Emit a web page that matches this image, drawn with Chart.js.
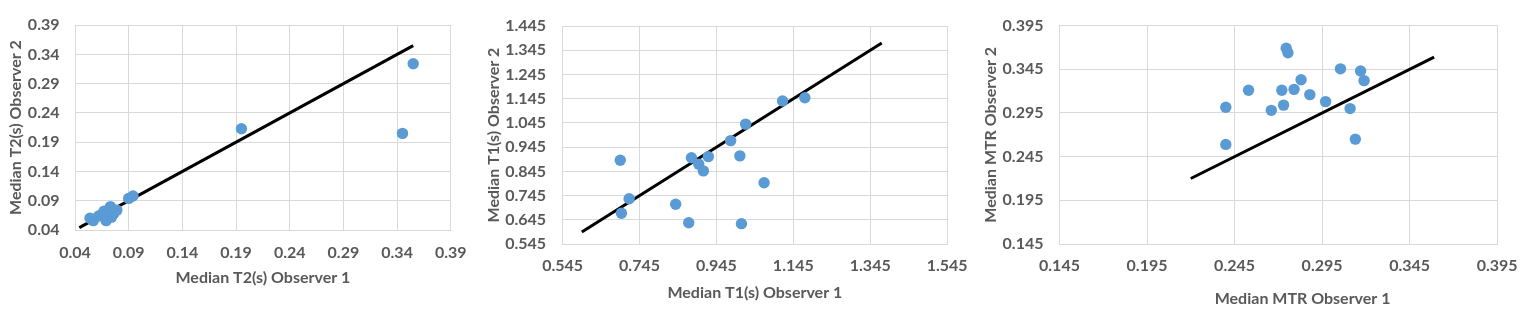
<!DOCTYPE html>
<html>
<head>
<meta charset="utf-8">
<script src="https://cdn.jsdelivr.net/npm/chart.js@4.4.1/dist/chart.umd.min.js"></script>
<style>
  html, body { margin: 0; padding: 0; background: #fff; }
  body { width: 1530px; height: 324px; position: relative; overflow: hidden; }
  canvas { position: absolute; top: 0; }
</style>
</head>
<body>
<canvas id="t2Chart" width="480" height="324" style="left:0px"></canvas>
<canvas id="t1Chart" width="500" height="324" style="left:480px"></canvas>
<canvas id="mtrChart" width="550" height="324" style="left:980px"></canvas>
<script>
// T2 (s)
const t2Observer1 = [0.054, 0.057, 0.062, 0.065, 0.067, 0.069, 0.071, 0.073, 0.074, 0.076, 0.079, 0.090, 0.094, 0.195, 0.345, 0.355];
const t2Observer2 = [0.060, 0.056, 0.064, 0.066, 0.072, 0.056, 0.070, 0.080, 0.062, 0.068, 0.074, 0.094, 0.098, 0.213, 0.205, 0.324];
const t2LineEnds = [0.044, 0.355];
const t2Ticks = [0.04, 0.09, 0.14, 0.19, 0.24, 0.29, 0.34, 0.39];

// T1 (s)
const t1Observer1 = [0.695, 0.718, 0.698, 0.839, 0.873, 0.880, 0.899, 0.911, 0.924, 0.982, 1.006, 1.010, 1.021, 1.069, 1.117, 1.175];
const t1Observer2 = [0.891, 0.732, 0.672, 0.709, 0.633, 0.901, 0.875, 0.847, 0.906, 0.972, 0.909, 0.629, 1.040, 0.798, 1.136, 1.149];
const t1LineEnds = [0.595, 1.375];
const t1XTicks = [0.545, 0.745, 0.945, 1.145, 1.345, 1.545];
const t1YTicks = [0.545, 0.645, 0.745, 0.845, 0.945, 1.045, 1.145, 1.245, 1.345, 1.445];

// MTR
const mtrObserver1 = [0.240, 0.240, 0.253, 0.266, 0.272, 0.273, 0.2745, 0.2755, 0.279, 0.283, 0.288, 0.297, 0.3055, 0.311, 0.314, 0.317, 0.319];
const mtrObserver2 = [0.3015, 0.259, 0.321, 0.298, 0.321, 0.304, 0.369, 0.364, 0.322, 0.333, 0.316, 0.308, 0.3455, 0.300, 0.265, 0.343, 0.332];
const mtrLineEnds = [0.220, 0.359];
const mtrTicks = [0.145, 0.195, 0.245, 0.295, 0.345, 0.395];

const TEXT = "#595959";
const GRID = "#D9D9D9";
const FONT = { family: "Lato, 'Open Sans', sans-serif", size: 16, weight: "bold" };

// draws an x title at a fixed spot (used where the title is not centred on the plot)
const freeTitle = {
  id: "freeTitle",
  afterDraw(chart, args, opts) {
    if (!opts.text) return;
    const ctx = chart.ctx;
    ctx.save();
    ctx.font = "bold 16px Lato, 'Open Sans', sans-serif";
    ctx.fillStyle = TEXT;
    ctx.textAlign = "center";
    ctx.textBaseline = "middle";
    ctx.fillText(opts.text, opts.x, opts.y);
    ctx.restore();
  },
};

function axis(cfg) {
  const horizontal = cfg.dir === "x";
  return {
    type: "linear",
    position: horizontal ? "bottom" : "left",
    min: cfg.ticks[0],
    max: cfg.ticks[cfg.ticks.length - 1],
    afterBuildTicks: (s) => { s.ticks = cfg.ticks.map((v) => ({ value: v })); },
    afterFit: (s) => {
      if (horizontal) s.height = cfg.size; else s.width = cfg.size;
    },
    grid: { color: GRID, lineWidth: 1, drawTicks: false },
    border: { color: GRID, width: 1 },
    ticks: {
      color: TEXT,
      font: FONT,
      padding: cfg.pad,
      autoSkip: false,
      maxRotation: 0,
      callback: (v) => Number(v).toFixed(cfg.dec),
    },
    title: {
      display: !!cfg.title,
      text: cfg.title || "",
      color: TEXT,
      font: FONT,
      padding: horizontal ? { top: 0, bottom: 0 } : { top: cfg.titlePad, bottom: 0 },
    },
  };
}

function makeScatter(id, xs, ys, lineEnds, opts) {
  const points = xs.map((x, i) => ({ x: x, y: ys[i] }));
  const line = lineEnds.map((v) => ({ x: v, y: v }));
  return new Chart(document.getElementById(id), {
    type: "scatter",
    data: {
      datasets: [
        {
          data: points,
          backgroundColor: "#5B9BD5",
          borderColor: "#5B9BD5",
          borderWidth: 0,
          pointRadius: 5.7,
          pointHoverRadius: 5.7,
        },
        {
          data: line,
          showLine: true,
          borderColor: "#000000",
          borderWidth: 3,
          pointRadius: 0,
          pointHoverRadius: 0,
        },
      ],
    },
    options: {
      responsive: false,
      animation: false,
      devicePixelRatio: 1,
      layout: { padding: opts.padding },
      plugins: {
        legend: { display: false },
        tooltip: { enabled: false },
        freeTitle: opts.freeTitle || {},
      },
      scales: { x: axis(opts.x), y: axis(opts.y) },
    },
    plugins: [freeTitle],
  });
}

makeScatter("t2Chart", t2Observer1, t2Observer2, t2LineEnds, {
  padding: { left: 0, top: 17, right: 21.5, bottom: 36.4 },
  x: { dir: "x", ticks: t2Ticks, dec: 2, size: 57.6, pad: 13.4, title: "Median T2(s) Observer 1" },
  y: { dir: "y", ticks: t2Ticks, dec: 2, size: 75, pad: 15.5, title: "Median T2(s) Observer 2", titlePad: 6.4 },
});

makeScatter("t1Chart", t1Observer1, t1Observer2, t1LineEnds, {
  padding: { left: 0, top: 17, right: 22.7, bottom: 21.7 },
  x: { dir: "x", ticks: t1XTicks, dec: 3, size: 58.3, pad: 12.4, title: "Median T1(s) Observer 1" },
  y: { dir: "y", ticks: t1YTicks, dec: 3, size: 82.6, pad: 16.5, title: "Median T1(s) Observer 2", titlePad: 4.2 },
});

makeScatter("mtrChart", mtrObserver1, mtrObserver2, mtrLineEnds, {
  padding: { left: 0, top: 17, right: 24.7, bottom: 20 },
  x: { dir: "x", ticks: mtrTicks, dec: 3, size: 60, pad: 12.4 },
  y: { dir: "y", ticks: mtrTicks, dec: 3, size: 79.5, pad: 16, title: "Median MTR Observer 2", titlePad: 1.1 },
  freeTitle: { text: "Median MTR Observer 1", x: 322.6, y: 299 },
});
</script>
</body>
</html>
